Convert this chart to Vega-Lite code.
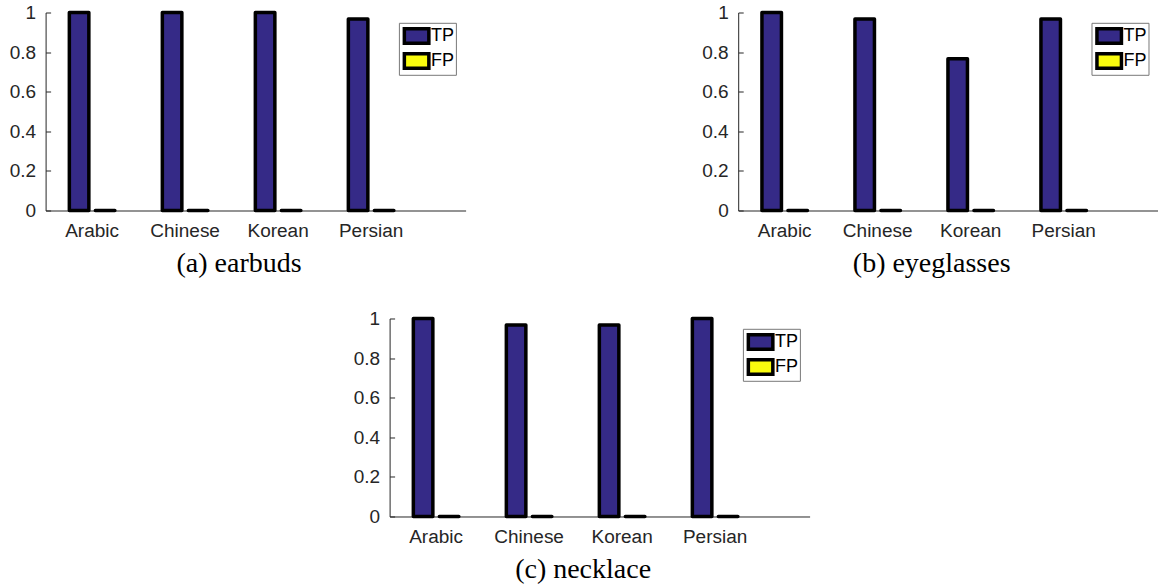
{
  "$schema": "https://vega.github.io/schema/vega-lite/v6.json",
  "background": "white",
  "padding": {"left": 8.6, "top": 3.5, "right": 0, "bottom": 0},
  "datasets": {
    "d": [
      {"panel": "a", "lang": "Arabic", "type": "TP", "value": 1},
      {"panel": "a", "lang": "Arabic", "type": "FP", "value": 0},
      {"panel": "a", "lang": "Chinese", "type": "TP", "value": 1},
      {"panel": "a", "lang": "Chinese", "type": "FP", "value": 0},
      {"panel": "a", "lang": "Korean", "type": "TP", "value": 1},
      {"panel": "a", "lang": "Korean", "type": "FP", "value": 0},
      {"panel": "a", "lang": "Persian", "type": "TP", "value": 0.967},
      {"panel": "a", "lang": "Persian", "type": "FP", "value": 0},
      {"panel": "b", "lang": "Arabic", "type": "TP", "value": 1},
      {"panel": "b", "lang": "Arabic", "type": "FP", "value": 0},
      {"panel": "b", "lang": "Chinese", "type": "TP", "value": 0.967},
      {"panel": "b", "lang": "Chinese", "type": "FP", "value": 0},
      {"panel": "b", "lang": "Korean", "type": "TP", "value": 0.767},
      {"panel": "b", "lang": "Korean", "type": "FP", "value": 0},
      {"panel": "b", "lang": "Persian", "type": "TP", "value": 0.967},
      {"panel": "b", "lang": "Persian", "type": "FP", "value": 0},
      {"panel": "c", "lang": "Arabic", "type": "TP", "value": 1},
      {"panel": "c", "lang": "Arabic", "type": "FP", "value": 0},
      {"panel": "c", "lang": "Chinese", "type": "TP", "value": 0.967},
      {"panel": "c", "lang": "Chinese", "type": "FP", "value": 0},
      {"panel": "c", "lang": "Korean", "type": "TP", "value": 0.967},
      {"panel": "c", "lang": "Korean", "type": "FP", "value": 0},
      {"panel": "c", "lang": "Persian", "type": "TP", "value": 1},
      {"panel": "c", "lang": "Persian", "type": "FP", "value": 0}
    ]
  },
  "config": {
    "view": {"stroke": null},
    "font": "Liberation Sans",
    "axis": {
      "labelFont": "Liberation Sans",
      "labelFontSize": 19,
      "labelColor": "#262626",
      "domainColor": "#262626",
      "domainWidth": 1,
      "tickColor": "#262626",
      "grid": false
    },
    "legend": {
      "title": null,
      "orient": "none",
      "strokeColor": "#777777",
      "fillColor": "white",
      "padding": 1,
      "symbolType": "M-1.75,-1.036H1.75V1.036H-1.75Z",
      "symbolSize": 196,
      "symbolStrokeColor": "black",
      "symbolStrokeWidth": 3.5,
      "symbolOpacity": 1,
      "symbolOffset": 7.7,
      "labelFont": "Liberation Sans",
      "labelFontSize": 18,
      "labelColor": "black",
      "labelOffset": 5.3,
      "rowPadding": 0,
      "clipHeight": 24.3
    }
  },
  "resolve": {"scale": {"color": "independent"}},
  "spacing": 32,
  "vconcat": [
    {
      "spacing": 235.6,
      "resolve": {"scale": {"color": "independent"}},
      "hconcat": [
        {
          "width": 420,
          "height": 198,
          "data": {"name": "d"},
          "transform": [{"filter": "datum.panel == 'a'"}],
          "mark": {"type": "bar", "stroke": "black", "strokeWidth": 3.5, "strokeJoin": "round"},
          "encoding": {
            "x": {"field": "lang", "type": "nominal",
              "scale": {"domain": ["Arabic", "Chinese", "Korean", "Persian"], "paddingInner": 0, "paddingOuter": 0.258, "align": 0},
              "axis": {"title": "(a) earbuds", "titleFont": "Liberation Serif", "titleFontSize": 28, "titleFontWeight": "normal", "titleColor": "black", "titleX": 193, "titleY": 61, "titleBaseline": "alphabetic", "titleAlign": "center", "ticks": false, "labelPadding": 26, "labelBaseline": "alphabetic", "labelAngle": 0}},
            "xOffset": {"field": "type", "type": "nominal", "scale": {"domain": ["TP", "FP"], "paddingInner": 0.25, "paddingOuter": 0.913}},
            "y": {"field": "value", "type": "quantitative", "scale": {"domain": [0, 1], "nice": false},
              "axis": {"title": null, "values": [0, 0.2, 0.4, 0.6, 0.8, 1], "format": "~g", "tickSize": -5, "labelPadding": 15}},
            "color": {"field": "type", "type": "nominal", "scale": {"domain": ["TP", "FP"], "range": ["#352A87", "#F9FB0E"]},
              "legend": {"legendX": 353.3, "legendY": 10.3}}
          }
        },
        {
          "width": 420,
          "height": 198,
          "data": {"name": "d"},
          "transform": [{"filter": "datum.panel == 'b'"}],
          "mark": {"type": "bar", "stroke": "black", "strokeWidth": 3.5, "strokeJoin": "round"},
          "encoding": {
            "x": {"field": "lang", "type": "nominal",
              "scale": {"domain": ["Arabic", "Chinese", "Korean", "Persian"], "paddingInner": 0, "paddingOuter": 0.258, "align": 0},
              "axis": {"title": "(b) eyeglasses", "titleFont": "Liberation Serif", "titleFontSize": 28, "titleFontWeight": "normal", "titleColor": "black", "titleX": 193, "titleY": 61, "titleBaseline": "alphabetic", "titleAlign": "center", "ticks": false, "labelPadding": 26, "labelBaseline": "alphabetic", "labelAngle": 0}},
            "xOffset": {"field": "type", "type": "nominal", "scale": {"domain": ["TP", "FP"], "paddingInner": 0.25, "paddingOuter": 0.913}},
            "y": {"field": "value", "type": "quantitative", "scale": {"domain": [0, 1], "nice": false},
              "axis": {"title": null, "values": [0, 0.2, 0.4, 0.6, 0.8, 1], "format": "~g", "tickSize": -5, "labelPadding": 15}},
            "color": {"field": "type", "type": "nominal", "scale": {"domain": ["TP", "FP"], "range": ["#352A87", "#F9FB0E"]},
              "legend": {"legendX": 353.3, "legendY": 10.3}}
          }
        }
      ]
    },
    {
      "spacing": 7,
      "resolve": {"scale": {"color": "independent"}},
      "hconcat": [
        {
          "width": 300,
          "height": 198,
          "data": {"values": []},
          "mark": {"type": "point", "opacity": 0}
        },
        {
          "width": 420,
          "height": 198,
          "data": {"name": "d"},
          "transform": [{"filter": "datum.panel == 'c'"}],
          "mark": {"type": "bar", "stroke": "black", "strokeWidth": 3.5, "strokeJoin": "round"},
          "encoding": {
            "x": {"field": "lang", "type": "nominal",
              "scale": {"domain": ["Arabic", "Chinese", "Korean", "Persian"], "paddingInner": 0, "paddingOuter": 0.258, "align": 0},
              "axis": {"title": "(c) necklace", "titleFont": "Liberation Serif", "titleFontSize": 28, "titleFontWeight": "normal", "titleColor": "black", "titleX": 193, "titleY": 61, "titleBaseline": "alphabetic", "titleAlign": "center", "ticks": false, "labelPadding": 26, "labelBaseline": "alphabetic", "labelAngle": 0}},
            "xOffset": {"field": "type", "type": "nominal", "scale": {"domain": ["TP", "FP"], "paddingInner": 0.25, "paddingOuter": 0.913}},
            "y": {"field": "value", "type": "quantitative", "scale": {"domain": [0, 1], "nice": false},
              "axis": {"title": null, "values": [0, 0.2, 0.4, 0.6, 0.8, 1], "format": "~g", "tickSize": -5, "labelPadding": 15}},
            "color": {"field": "type", "type": "nominal", "scale": {"domain": ["TP", "FP"], "range": ["#352A87", "#F9FB0E"]},
              "legend": {"legendX": 353.3, "legendY": 10.3}}
          }
        }
      ]
    }
  ]
}
